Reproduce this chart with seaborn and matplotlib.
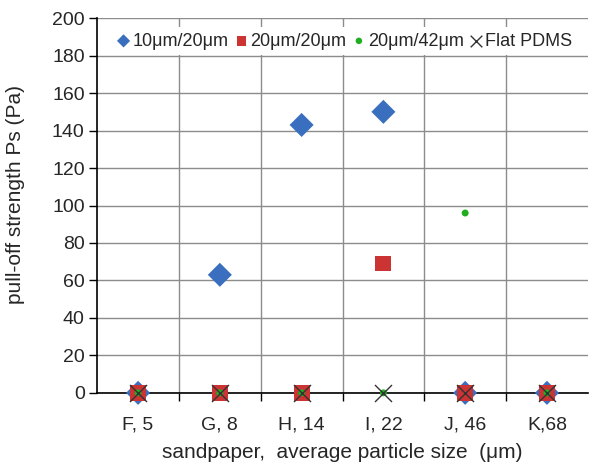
import matplotlib
matplotlib.use("Agg")
import matplotlib.pyplot as plt
import seaborn as sns
import pandas as pd
import numpy as np

categories = ["F, 5", "G, 8", "H, 14", "I, 22", "J, 46", "K,68"]
s_10_20 = [0, 63, 143, 150, 0, 0]
s_20_20 = [0, 0, 0, 69, 0, 0]
s_20_42 = [0, 0, 0, 0, 96, 0]
s_flat = [0, 0, 0, 0, 0, 0]
series_names = ["10μm/20μm", "20μm/20μm", "20μm/42μm", "Flat PDMS"]
yticks = list(range(0, 201, 20))

sns.set_style("white")
plt.rcParams['font.family'] = ['Liberation Sans', 'DejaVu Sans']

fig = plt.figure(figsize=(5.89, 4.66), dpi=100)
ax = fig.add_axes([0.165, 0.157, 0.833, 0.804])

styles = [
    dict(marker="D", color="#3a6fbf", s=150, edgecolor="none"),
    dict(marker="s", color="#cc3333", s=130, edgecolor="none"),
    dict(marker="o", color="#1fae1f", s=25, edgecolor="none"),
    dict(marker="x", color="#333333", s=150, linewidth=1.0),
]
legend_sizes = [45, 45, 22, 70]
all_vals = [s_10_20, s_20_20, s_20_42, s_flat]
for name, vals, st in zip(series_names, all_vals, styles):
    df = pd.DataFrame({"cat": categories, "val": vals})
    sns.scatterplot(data=df, x="cat", y="val", ax=ax, label=name, zorder=3,
                    clip_on=False, **st)

ax.set_xlim(-0.5, 5.5)
ax.set_ylim(0, 200)
ax.set_yticks(yticks)
ax.set_xticks(range(len(categories)))
ax.set_xticklabels(categories, fontsize=14)
ax.tick_params(axis="y", labelsize=14, direction="out", length=6, width=1, color="black", left=True, pad=3)
ax.tick_params(axis="x", which="major", length=0, pad=17)
ax.set_xticks(np.arange(0.5, 5.5, 1.0), minor=True)
ax.tick_params(axis="x", which="minor", length=6, width=1, color="black", direction="out", bottom=True)
ax.grid(True, axis="y", color="#8c8c8c", linewidth=1.0)
ax.grid(True, axis="x", which="minor", color="#8c8c8c", linewidth=1.0)
ax.grid(False, axis="x", which="major")
ax.set_axisbelow(True)
for side in ["top", "right"]:
    ax.spines[side].set_visible(False)
for side in ["left", "bottom"]:
    ax.spines[side].set_color("black")
    ax.spines[side].set_linewidth(1.2)

ax.set_xlabel("sandpaper,  average particle size  (μm)", fontsize=15, labelpad=7)
ax.set_ylabel("pull-off strength Ps (Pa)", fontsize=15)
ax.yaxis.set_label_coords(-0.147, 0.53)

leg = ax.legend(loc="upper center", bbox_to_anchor=(0.504, 1.0), ncol=4, frameon=True,
                fontsize=13, handletextpad=0.1, columnspacing=0.3, borderpad=0.3,
                handlelength=0.8, markerscale=1.0)
leg.get_frame().set_facecolor("white")
leg.get_frame().set_edgecolor("none")
leg.get_frame().set_alpha(1.0)
for h, sz in zip(leg.legend_handles, legend_sizes):
    h.set_sizes([sz])
leg.set_zorder(5)

fig.savefig("out.png", dpi=100)
